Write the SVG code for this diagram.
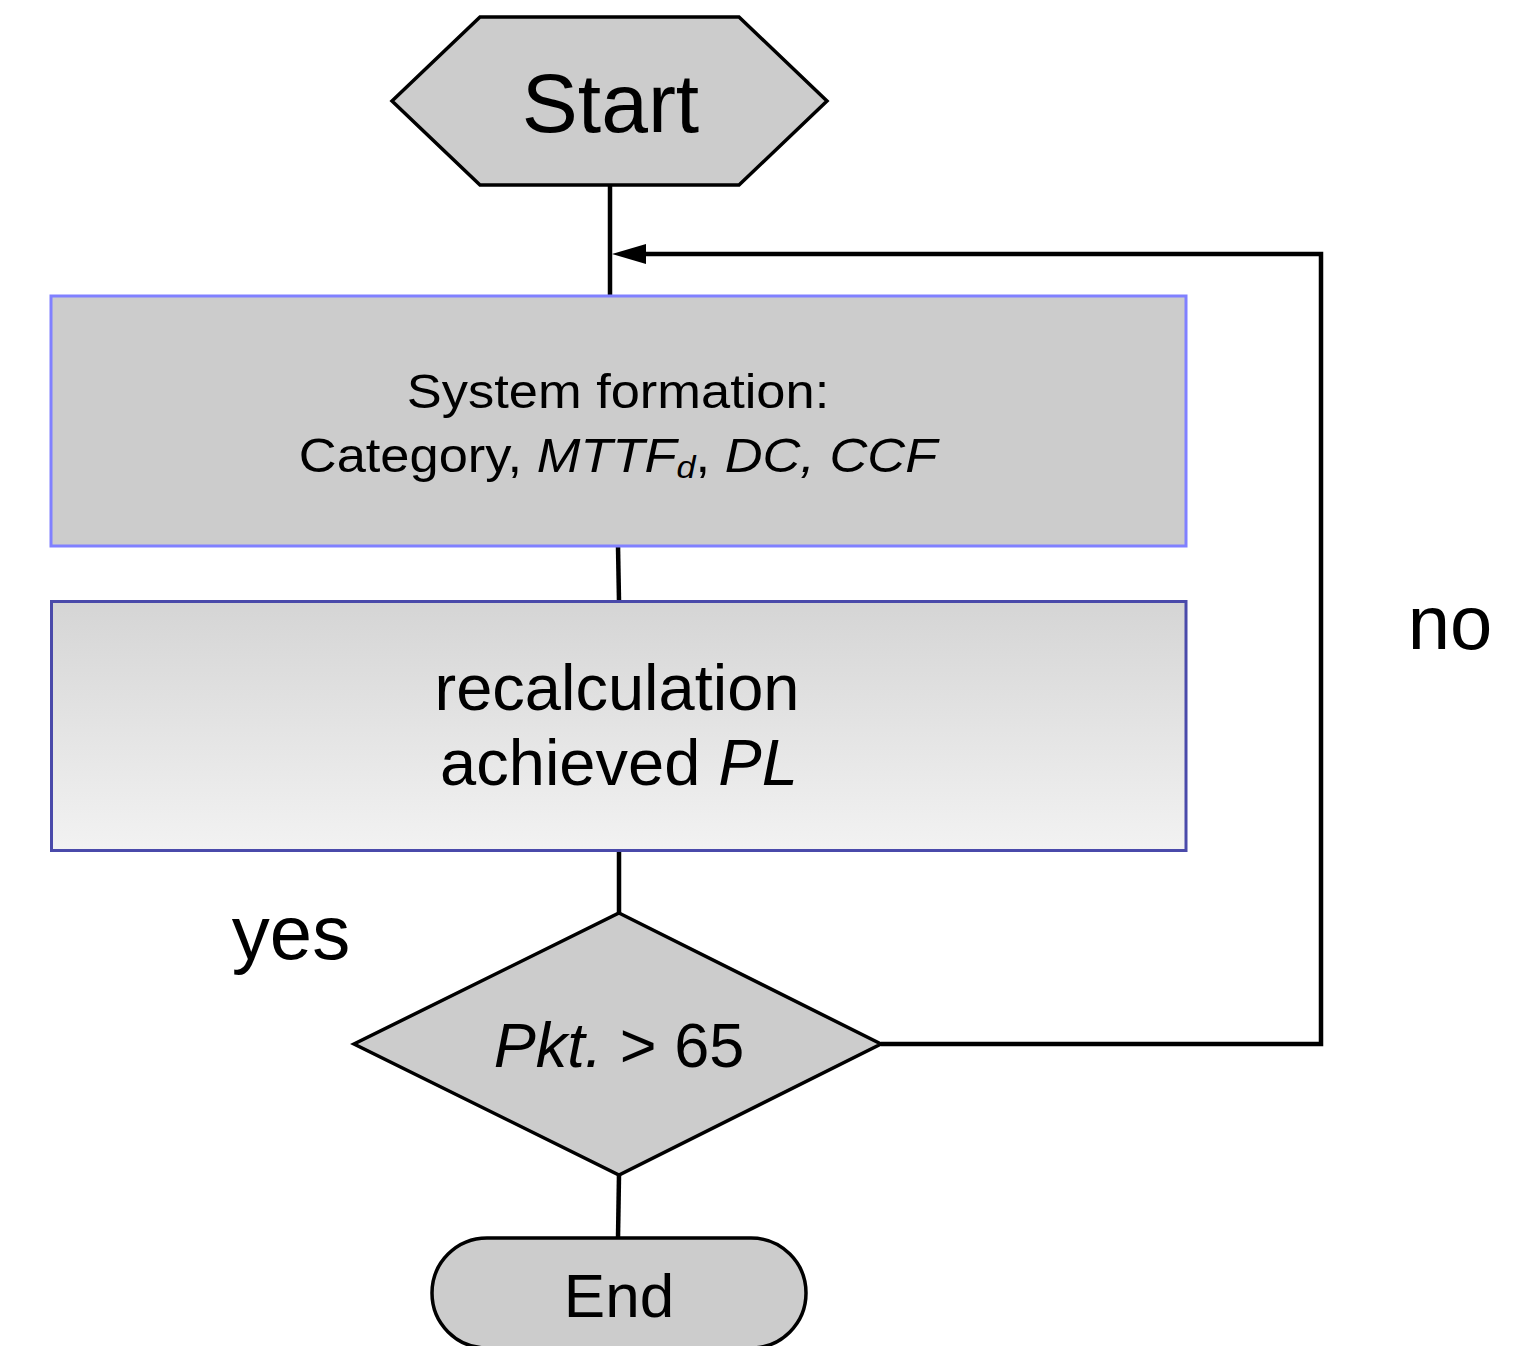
<svg xmlns="http://www.w3.org/2000/svg" width="1536" height="1346" viewBox="0 0 1536 1346">
  <style>
    text { font-family: "Liberation Sans", Arial, Helvetica, sans-serif; fill: #000; }
    .shape { fill: #cccccc; stroke: #000; stroke-width: 3.5; stroke-linejoin: miter; }
    .link { fill: none; stroke: #000; stroke-width: 4.5; stroke-linejoin: miter; }
    .it { font-style: italic; }
  </style>
  <defs>
    <linearGradient id="calcFill" x1="0" y1="0" x2="0" y2="1">
      <stop offset="0" stop-color="#d5d5d5"/>
      <stop offset="1" stop-color="#f2f2f2"/>
    </linearGradient>
    <marker id="arrow" markerUnits="userSpaceOnUse" markerWidth="34" markerHeight="20" refX="16" refY="10" orient="auto">
      <path d="M0,0 L34,10 L0,20 Z" fill="#000"/>
    </marker>
  </defs>

  <!-- connectors -->
  <g id="connectors">
    <line class="link" x1="610" y1="185" x2="610" y2="296"/>
    <line class="link" x1="618" y1="546" x2="619" y2="601"/>
    <line class="link" x1="619" y1="851" x2="619" y2="913"/>
    <line class="link" x1="619" y1="1175" x2="618" y2="1238"/>
    <polyline class="link" points="881,1044 1321,1044 1321,254 630,254" marker-end="url(#arrow)"/>
  </g>

  <!-- start terminator -->
  <g id="start">
    <polygon class="shape" points="392,101 480,17 739,17 827,101 739,185 480,185"/>
    <text x="610.5" y="132" font-size="84" text-anchor="middle">Start</text>
  </g>

  <!-- system formation step -->
  <g id="system-formation">
    <rect x="51" y="296" width="1135" height="250" fill="#cccccc" stroke="#8080ff" stroke-width="3"/>
    <g transform="translate(618,0) scale(1.07,1)">
      <text x="0" y="408" font-size="49" text-anchor="middle">System formation:</text>
      <text x="0" y="472" font-size="49" text-anchor="middle">Category, <tspan class="it">MTTF</tspan><tspan class="it" font-size="32" dy="6">d</tspan><tspan dy="-6">, </tspan><tspan class="it">DC, CCF</tspan></text>
    </g>
  </g>

  <!-- recalculation step -->
  <g id="recalculation">
    <rect x="51.5" y="601.5" width="1134.5" height="249" fill="url(#calcFill)" stroke="#4a4aaa" stroke-width="3"/>
    <text x="617" y="710" font-size="65" text-anchor="middle">recalculation</text>
    <text x="619" y="785" font-size="65" text-anchor="middle">achieved <tspan class="it">PL</tspan></text>
  </g>

  <!-- decision -->
  <g id="decision">
    <polygon class="shape" points="619,913 881,1044 619,1175 354,1044"/>
    <text x="619" y="1067" font-size="63" text-anchor="middle"><tspan class="it">Pkt.</tspan> &gt; 65</text>
  </g>

  <!-- branch labels -->
  <g id="label-yes">
    <text x="291" y="959" font-size="76" text-anchor="middle">yes</text>
  </g>
  <g id="label-no">
    <text x="1450" y="649" font-size="76" text-anchor="middle">no</text>
  </g>

  <!-- end terminator -->
  <g id="end">
    <rect class="shape" x="432" y="1238" width="374" height="110" rx="55" ry="55"/>
    <text x="619" y="1317" font-size="62" text-anchor="middle">End</text>
  </g>
</svg>
